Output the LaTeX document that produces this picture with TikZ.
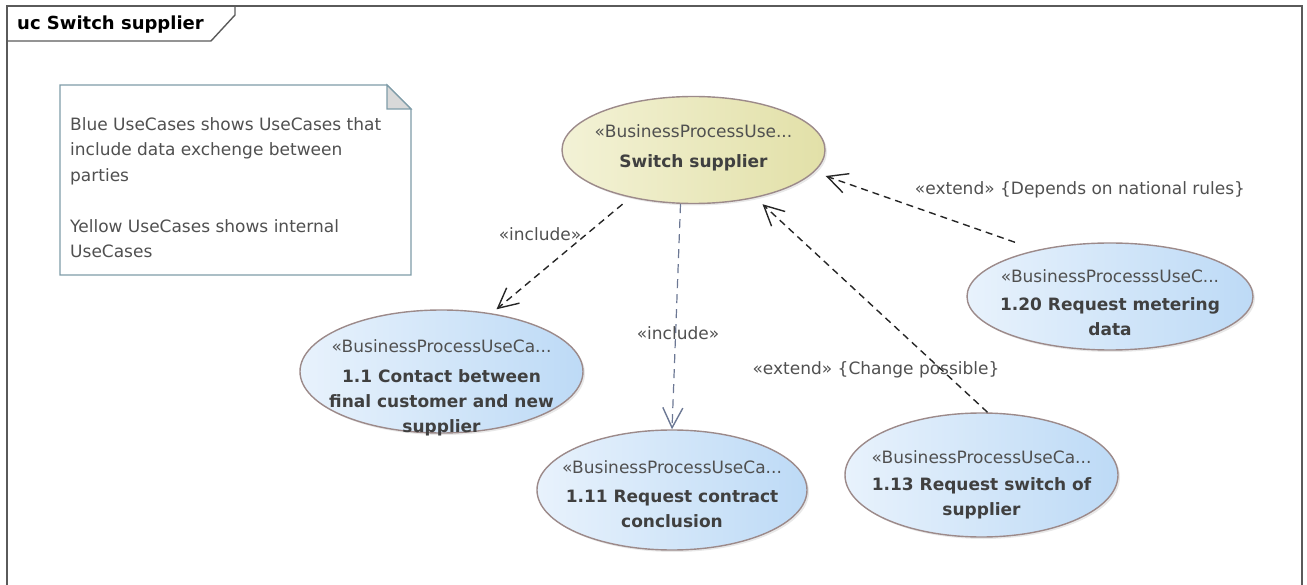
\documentclass[tikz,border=0pt]{standalone}
\usepackage{fontspec}
\setmainfont{DejaVu Sans}
\usepackage{tikz}
\usetikzlibrary{shapes.geometric, arrows.meta, shadows}

\definecolor{framegray}{HTML}{5A5A5A}
\definecolor{notegray}{HTML}{7E9CA8}
\definecolor{foldgray}{HTML}{D9D9D9}
\definecolor{ucborder}{HTML}{9C8A8A}
\definecolor{blueleft}{HTML}{E8F2FC}
\definecolor{blueright}{HTML}{BDDAF6}
\definecolor{yellowleft}{HTML}{F3F2D6}
\definecolor{yellowright}{HTML}{E2E0A8}
\definecolor{txtgray}{HTML}{505050}
\definecolor{boldgray}{HTML}{404040}
\definecolor{inclgray}{HTML}{6C7894}

\tikzset{
    usecase/.style={ellipse, draw=ucborder, line width=1.4pt, inner sep=0pt,
        drop shadow={opacity=0.18, shadow xshift=2pt, shadow yshift=-2pt}},
    bluecase/.style={usecase, left color=blueleft, right color=blueright},
    yellowcase/.style={usecase, left color=yellowleft, right color=yellowright},
    uctext/.style={anchor=north, align=center, inner sep=0pt, text=txtgray,
        font=\fontsize{17}{25}\selectfont},
    deplink/.style={draw=black!85, line width=1.4pt, dash pattern=on 7pt off 5pt,
        -{Straight Barb[length=20pt, width=20pt, line width=1.4pt]}},
    deplabel/.style={text=txtgray, inner sep=0pt, font=\fontsize{17}{20}\selectfont},
}

\begin{document}
\begin{tikzpicture}[x=1pt, y=-1pt]
    \useasboundingbox (0,0) rectangle (1307,585);

    % Frame
    \draw[framegray, line width=2pt] (7,585) -- (7,6) -- (1302,6) -- (1302,585);
    \draw[framegray, line width=1.4pt] (7,41) -- (211,41) -- (235,15) -- (235,6);
    \node[anchor=base west, inner sep=0pt, font=\fontsize{18}{20}\selectfont\bfseries] (title) at (17,30) {uc Switch supplier};

    % Note
    \draw[notegray, line width=1.4pt, fill=white] (60,85) -- (387,85) -- (411,109) -- (411,275) -- (60,275) -- cycle;
    \draw[notegray, line width=1.2pt, fill=foldgray] (387,85) -- (387,109) -- (411,109) -- cycle;
    \node[anchor=north west, align=left, inner sep=0pt, text=txtgray, font=\fontsize{17}{25.5}\selectfont] (note) at (70,117) {Blue UseCases shows UseCases that\\include data exchenge between\\parties\\[25.5pt]Yellow UseCases shows internal\\UseCases};

    % Use cases
    \node[yellowcase, minimum width=263pt, minimum height=107pt] (switch) at (693.5,150) {};
    \node[bluecase, minimum width=283pt, minimum height=123pt] (uc11) at (441.5,371.5) {};
    \node[bluecase, minimum width=270pt, minimum height=120pt] (uc111) at (672,490) {};
    \node[bluecase, minimum width=273pt, minimum height=124pt] (uc113) at (981.5,475) {};
    \node[bluecase, minimum width=286pt, minimum height=107pt] (uc120) at (1110,296.5) {};

    % Use case texts
    \node[uctext] (tswitch) at (693.5,124.5) {«BusinessProcessUse...\\[5pt]\textcolor{boldgray}{\bfseries Switch supplier}};
    \node[uctext] (tuc11) at (441.5,339) {«BusinessProcessUseCa...\\[5pt]\textcolor{boldgray}{\bfseries 1.1 Contact between}\\\textcolor{boldgray}{\bfseries final customer and new}\\\textcolor{boldgray}{\bfseries supplier}};
    \node[uctext] (tuc111) at (672,460.5) {«BusinessProcessUseCa...\\[4pt]\textcolor{boldgray}{\bfseries 1.11 Request contract}\\\textcolor{boldgray}{\bfseries conclusion}};
    \node[uctext] (tuc113) at (981.5,450.5) {«BusinessProcessUseCa...\\[2pt]\textcolor{boldgray}{\bfseries 1.13 Request switch of}\\\textcolor{boldgray}{\bfseries supplier}};
    \node[uctext] (tuc120) at (1110,269) {«BusinessProcesssUseC...\\[3pt]\textcolor{boldgray}{\bfseries 1.20 Request metering}\\\textcolor{boldgray}{\bfseries data}};

    % Connectors
    \draw[deplink] ([xshift=-71pt]switch.south) -- ([xshift=55pt]uc11.north);
    \draw[deplink, draw=inclgray, line width=1.2pt, dash pattern=on 9pt off 6pt] ([xshift=-13pt]switch.south) -- (uc111.north);
    \draw[deplink] ([xshift=6pt]uc113.north) -- ([xshift=69pt]switch.south);
    \draw[deplink] ([xshift=-95pt]uc120.north) -- ([yshift=-26pt]switch.east);

    % Labels
    \node[deplabel] (linc1) at (540,234) {«include»};
    \node[deplabel] (linc2) at (678,333) {«include»};
    \node[deplabel] (lext1) at (876,370) {«extend» \{Change possible\}};
    \node[deplabel] (lext2) at (1080,190) {«extend» \{Depends on national rules\}};
\end{tikzpicture}
\end{document}
